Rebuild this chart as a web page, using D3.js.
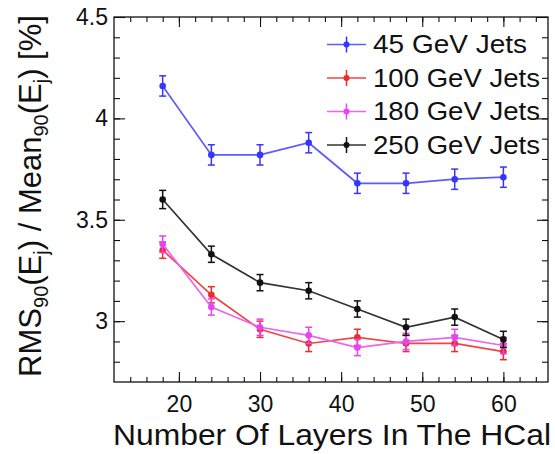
<!DOCTYPE html>
<html>
<head>
<meta charset="utf-8">
<script src="https://cdn.jsdelivr.net/npm/d3@7"></script>
<style>
  body { margin: 0; background: #fff; }
  svg text { font-family: "Liberation Sans", Arial, Helvetica, sans-serif; fill: #111; }
</style>
</head>
<body>
<div id="chart"></div>
<script>
// number of layers in the HCal (x values)
var layers = [18, 24, 30, 36, 42, 48, 54, 60];

// RMS90 / Mean90 in % for each jet energy
var jets45  = [4.16, 3.82, 3.82, 3.88, 3.68, 3.68, 3.70, 3.71];
var jets100 = [3.35, 3.13, 2.96, 2.89, 2.92, 2.89, 2.89, 2.85];
var jets180 = [3.38, 3.07, 2.97, 2.93, 2.87, 2.90, 2.92, 2.88];
var jets250 = [3.60, 3.33, 3.19, 3.15, 3.06, 2.97, 3.02, 2.91];

// error bars (half height)
var err45  = [0.05, 0.05, 0.05, 0.05, 0.05, 0.05, 0.05, 0.05];
var err100 = [0.04, 0.04, 0.04, 0.04, 0.04, 0.04, 0.04, 0.04];
var err180 = [0.04, 0.04, 0.04, 0.04, 0.04, 0.04, 0.04, 0.04];
var err250 = [0.045, 0.04, 0.04, 0.04, 0.04, 0.04, 0.04, 0.04];

var seriesNames = ["45 GeV Jets", "100 GeV Jets", "180 GeV Jets", "250 GeV Jets"];

// tick values
var xMajor = [20, 30, 40, 50, 60];
var xMinor = d3.range(14, 66, 2);
var yMajor = [3, 3.5, 4, 4.5];
var yMinor = d3.range(28, 45, 1).map(function(d) { return d / 10; });

var series = [
    {name: seriesNames[0], values: jets45,  errs: err45,  dot: "#3535ff", line: "#5b5bff"},
    {name: seriesNames[1], values: jets100, errs: err100, dot: "#ee2a2a", line: "#f04545"},
    {name: seriesNames[2], values: jets180, errs: err180, dot: "#e544ee", line: "#ea66f0"},
    {name: seriesNames[3], values: jets250, errs: err250, dot: "#111111", line: "#333333"}
];

var margin = {top: 17, right: 7, bottom: 72, left: 114},
    width = 555 - margin.left - margin.right,
    height = 454 - margin.top - margin.bottom;

var svg = d3.select("#chart").append("svg")
    .attr("width", 555)
    .attr("height", 454);

var g = svg.append("g")
    .attr("transform", "translate(" + margin.left + "," + margin.top + ")");

var x = d3.scaleLinear().domain([12, 65.5]).range([0, width]);
var y = d3.scaleLinear().domain([2.7, 4.5]).range([height, 0]);

//frame
g.append("rect")
    .attr("width", width)
    .attr("height", height)
    .attr("fill", "none")
    .attr("stroke", "#111")
    .attr("stroke-width", 1.3);

//axes, ticks pointing inward on all sides
function styleAxis(sel) {
    sel.select(".domain").remove();
    sel.selectAll("line").attr("stroke", "#111").attr("stroke-width", 1.1);
    sel.selectAll("text").attr("font-size", 23).attr("fill", "#111");
}

g.append("g").attr("transform", "translate(0," + height + ")")
    .call(d3.axisBottom(x).tickValues(xMajor).tickSize(-10).tickPadding(14).tickFormat(d3.format("d")))
    .call(styleAxis);
g.append("g").attr("transform", "translate(0," + height + ")")
    .call(d3.axisBottom(x).tickValues(xMinor).tickSize(-5).tickFormat(""))
    .call(styleAxis);
g.append("g")
    .call(d3.axisTop(x).tickValues(xMajor).tickSize(-10).tickFormat(""))
    .call(styleAxis);
g.append("g")
    .call(d3.axisTop(x).tickValues(xMinor).tickSize(-5).tickFormat(""))
    .call(styleAxis);

g.append("g")
    .call(d3.axisLeft(y).tickValues(yMajor).tickSize(-11).tickPadding(6).tickFormat(d3.format("")))
    .call(styleAxis);
g.append("g")
    .call(d3.axisLeft(y).tickValues(yMinor).tickSize(-6).tickFormat(""))
    .call(styleAxis);
g.append("g").attr("transform", "translate(" + width + ",0)")
    .call(d3.axisRight(y).tickValues(yMajor).tickSize(-11).tickFormat(""))
    .call(styleAxis);
g.append("g").attr("transform", "translate(" + width + ",0)")
    .call(d3.axisRight(y).tickValues(yMinor).tickSize(-6).tickFormat(""))
    .call(styleAxis);

//lines, error bars and markers
var line = d3.line()
    .x(function(d) { return x(d[0]); })
    .y(function(d) { return y(d[1]); });

series.forEach(function(s) {
    var pts = layers.map(function(l, i) { return [l, s.values[i], s.errs[i]]; });
    var sg = g.append("g");

    sg.append("path")
        .datum(pts)
        .attr("d", line)
        .attr("fill", "none")
        .attr("stroke", s.line)
        .attr("stroke-width", 1.7);

    var bars = sg.selectAll(".err").data(pts).enter().append("g");
    bars.append("line")
        .attr("x1", function(d) { return x(d[0]); })
        .attr("x2", function(d) { return x(d[0]); })
        .attr("y1", function(d) { return y(d[1] - d[2]); })
        .attr("y2", function(d) { return y(d[1] + d[2]); })
        .attr("stroke", s.dot).attr("stroke-width", 1.5);
    [-1, 1].forEach(function(sign) {
        bars.append("line")
            .attr("x1", function(d) { return x(d[0]) - 3.5; })
            .attr("x2", function(d) { return x(d[0]) + 3.5; })
            .attr("y1", function(d) { return y(d[1] + sign * d[2]); })
            .attr("y2", function(d) { return y(d[1] + sign * d[2]); })
            .attr("stroke", s.dot).attr("stroke-width", 1.5);
    });

    sg.selectAll(".dot").data(pts).enter().append("circle")
        .attr("cx", function(d) { return x(d[0]); })
        .attr("cy", function(d) { return y(d[1]); })
        .attr("r", 3.3)
        .attr("fill", s.dot);
});

//legend
var legend = svg.append("g").attr("transform", "translate(327,44.5)");
series.forEach(function(s, i) {
    var row = legend.append("g").attr("transform", "translate(0," + (i * 33.5) + ")");
    row.append("line")
        .attr("x1", 0).attr("x2", 39).attr("y1", 0).attr("y2", 0)
        .attr("stroke", s.line).attr("stroke-width", 1.7);
    row.append("line")
        .attr("x1", 19.5).attr("x2", 19.5).attr("y1", -8).attr("y2", 8)
        .attr("stroke", s.dot).attr("stroke-width", 1.5);
    row.append("circle")
        .attr("cx", 19.5).attr("cy", 0).attr("r", 3)
        .attr("fill", s.dot);
    row.append("text")
        .attr("x", 46)
        .attr("y", 8.5)
        .attr("font-size", 25)
        .attr("textLength", i === 0 ? 154 : 167)
        .attr("lengthAdjust", "spacingAndGlyphs")
        .text(s.name);
});

//x axis title
svg.append("text")
    .attr("x", 332)
    .attr("y", 445)
    .attr("text-anchor", "middle")
    .attr("font-size", 30)
    .attr("textLength", 438)
    .attr("lengthAdjust", "spacingAndGlyphs")
    .text("Number Of Layers In The HCal");

//y axis title with subscripts
var yt = svg.append("text")
    .attr("transform", "translate(41,196) rotate(-90)")
    .attr("text-anchor", "middle")
    .attr("font-size", 31);
var parts = [["RMS", 0], ["90", 1], ["(E", 0], ["j", 1], [") / Mean", 0], ["90", 1], ["(E", 0], ["j", 1], [") [%]", 0]];
var shift = 0;
parts.forEach(function(p) {
    var dy = p[1] ? 7 - shift : -shift;
    shift = p[1] ? 7 : 0;
    yt.append("tspan")
        .attr("dy", dy)
        .attr("font-size", p[1] ? 20 : 31)
        .text(p[0]);
});
</script>
</body>
</html>
